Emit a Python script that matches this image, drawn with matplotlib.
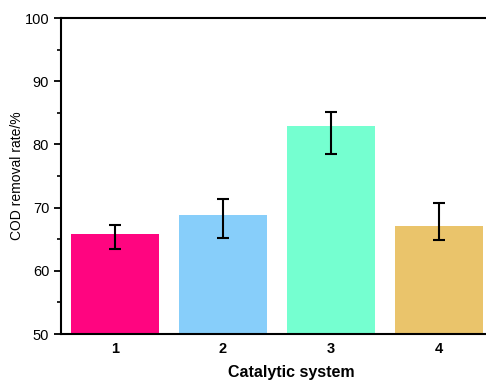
import matplotlib
matplotlib.use("Agg")
import matplotlib.pyplot as plt
from matplotlib.ticker import MultipleLocator

plt.rcParams['font.family'] = ['Liberation Sans', 'DejaVu Sans']

categories = ['1', '2', '3', '4']
values = [65.8, 68.8, 82.9, 67.1]
err_lower = [2.4, 3.6, 4.4, 2.3]
err_upper = [1.4, 2.6, 2.2, 3.7]
colors = ['#FF0580', '#87CEFA', '#75FFD0', '#EAC46B']

fig = plt.figure(figsize=(4.86, 3.82), dpi=100)
ax = fig.add_axes([61/486, 1-334/382, (493-61)/486, (334-18)/382])

x = list(range(1, len(categories) + 1))
ax.bar(x, [v - 50 for v in values], bottom=50, width=0.815, color=colors,
       yerr=[err_lower, err_upper],
       error_kw=dict(ecolor='black', elinewidth=1.5, capsize=4, capthick=1.5))

ax.set_xlim(0.5, 4.5)
ax.set_ylim(50, 100)
ax.set_xticks(x)
ax.set_xticklabels(categories, fontweight='bold', fontsize=10.5)
ax.yaxis.set_major_locator(MultipleLocator(10))
ax.yaxis.set_minor_locator(MultipleLocator(5))
ax.tick_params(axis='y', which='major', direction='out', length=5, width=1.3, labelsize=10.5)
ax.tick_params(axis='y', which='minor', direction='out', length=3, width=1.2)
ax.tick_params(axis='x', which='major', length=0, labelsize=10.5, pad=6)
for s in ['left', 'bottom', 'top', 'right']:
    ax.spines[s].set_linewidth(1.5)

ax.set_ylabel('COD removal rate/%', fontsize=10)
ax.yaxis.set_label_coords((24 - 61) / 432, 0.5)
ax.set_xlabel('Catalytic system', fontsize=11.5, fontweight='bold')
ax.xaxis.set_label_coords((291 - 61) / 432, (334 - 365) / 316)

fig.savefig('out.png', dpi=100)
